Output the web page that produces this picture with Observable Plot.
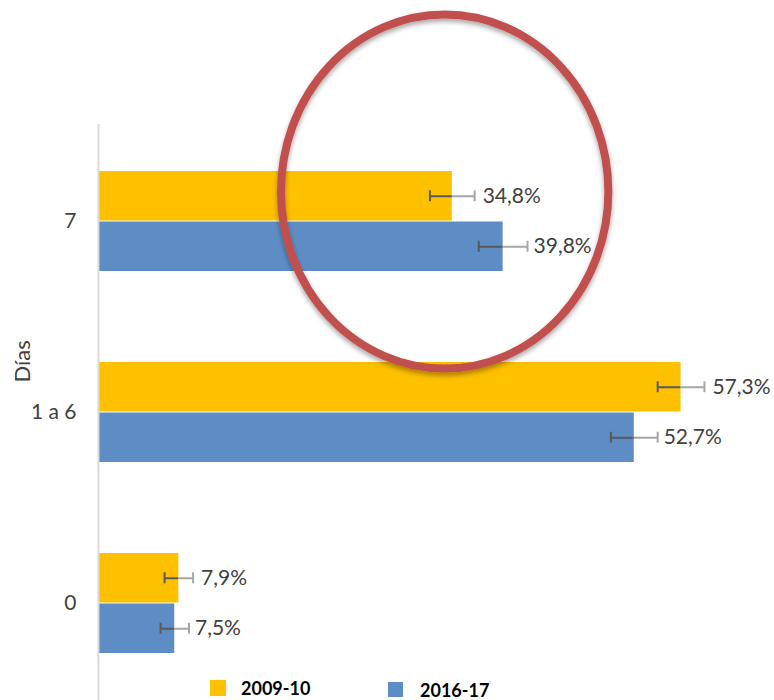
<!DOCTYPE html>
<html>
<head>
<meta charset="utf-8">
<script src="https://cdn.jsdelivr.net/npm/d3@7"></script>
<script src="https://cdn.jsdelivr.net/npm/@observablehq/plot@0.6"></script>
<style>
  html, body { margin: 0; padding: 0; background: #fff; }
  #wrap { position: relative; width: 774px; height: 700px; overflow: hidden; font-family: Lato, "Open Sans", sans-serif; }
  .leg { position: absolute; font-weight: bold; font-size: 18px; color: #000; line-height: 15px; }
  .sw { position: absolute; width: 16px; height: 16px; }
</style>
</head>
<body>
<div id="wrap"></div>
<script>
// ---- data ----
const categories = ["7", "1 a 6", "0"];
const seriesNames = ["2009-10", "2016-17"];
const values0910 = [34.8, 57.3, 7.9];
const values1617 = [39.8, 52.7, 7.5];
const err0910 = [2.2, 2.3, 1.4];
const err1617 = [2.4, 2.3, 1.4];
const axisLabel = "Días";
// annotation (ellipse around category "7"), in data units
const ellipseCenter = 34.1;   // % on x
const ellipseRadius = 16.1;   // % on x
const ellipseCategory = "7";

const colors = {"2009-10": "#FFC000", "2016-17": "#5E8DC6"};
const fmt = v => v.toFixed(1).replace(".", ",") + "%";

const rows = [];
categories.forEach((c, i) => {
  rows.push({cat: c, series: seriesNames[0], v: values0910[i], e: err0910[i]});
  rows.push({cat: c, series: seriesNames[1], v: values1617[i], e: err1617[i]});
});
const rowsA = rows.filter(d => d.series === seriesNames[0]);
const rowsB = rows.filter(d => d.series === seriesNames[1]);

const H = 700, BW = 101, half = BW / 2, off = BW / 4, cap = 12;

const chart = Plot.plot({
  width: 774,
  height: H,
  marginLeft: 98,
  marginRight: 5,
  marginTop: 124,
  marginBottom: 0,
  style: {fontFamily: "Lato, 'Open Sans', sans-serif", fontSize: "21px", color: "#404040", background: "transparent", overflow: "visible"},
  x: {domain: [0, 66], axis: null},
  y: {domain: categories, paddingInner: 91 / 192, paddingOuter: 0.237, label: null, tickSize: 0, tickPadding: 22},
  marks: [
    Plot.barX(rowsA, {y: "cat", x: "v", fill: colors[seriesNames[0]], insetBottom: half}),
    Plot.barX(rowsB, {y: "cat", x: "v", fill: colors[seriesNames[1]], insetTop: half}),
    Plot.ruleX([0], {stroke: "#d9d9d9", strokeWidth: 2}),
    // axis title
    Plot.text([axisLabel], {frameAnchor: "left", dx: -76, dy: -30, rotate: -90, fill: "#404040", fontSize: 22}),
    // error bars: inner (dark) and outer (light) halves
    Plot.ruleY(rowsA, {y: "cat", x1: d => d.v - d.e, x2: "v", dy: -off, stroke: "#595959", strokeWidth: 2}),
    Plot.ruleY(rowsA, {y: "cat", x1: "v", x2: d => d.v + d.e, dy: -off, stroke: "#a6a6a6", strokeWidth: 2}),
    Plot.ruleY(rowsB, {y: "cat", x1: d => d.v - d.e, x2: "v", dy: off, stroke: "#595959", strokeWidth: 2}),
    Plot.ruleY(rowsB, {y: "cat", x1: "v", x2: d => d.v + d.e, dy: off, stroke: "#a6a6a6", strokeWidth: 2}),
    Plot.tickX(rowsA, {y: "cat", x: d => d.v - d.e, stroke: "#595959", strokeWidth: 2, insetTop: off - cap / 2, insetBottom: BW - off - cap / 2}),
    Plot.tickX(rowsA, {y: "cat", x: d => d.v + d.e, stroke: "#a6a6a6", strokeWidth: 2, insetTop: off - cap / 2, insetBottom: BW - off - cap / 2}),
    Plot.tickX(rowsB, {y: "cat", x: d => d.v - d.e, stroke: "#595959", strokeWidth: 2, insetTop: BW - off - cap / 2, insetBottom: off - cap / 2}),
    Plot.tickX(rowsB, {y: "cat", x: d => d.v + d.e, stroke: "#a6a6a6", strokeWidth: 2, insetTop: BW - off - cap / 2, insetBottom: off - cap / 2}),
    // value labels
    Plot.text(rowsA, {y: "cat", x: d => d.v + d.e, dx: 8, dy: -off, text: d => fmt(d.v), textAnchor: "start", fill: "#404040", fontSize: 21}),
    Plot.text(rowsB, {y: "cat", x: d => d.v + d.e, dx: 6, dy: off, text: d => fmt(d.v), textAnchor: "start", fill: "#404040", fontSize: 21})
  ]
});

// annotation ellipse, positioned through the plot's scales
const xs = chart.scale("x"), ys = chart.scale("y");
const cx = xs.apply(ellipseCenter);
const rx = xs.apply(ellipseRadius) - xs.apply(0);
const cy = ys.apply(ellipseCategory) + ys.bandwidth / 2 - 29.5;
const ry = 177;
const ns = "http://www.w3.org/2000/svg";
const defs = document.createElementNS(ns, "defs");
defs.innerHTML = '<filter id="shd" x="-20%" y="-20%" width="140%" height="140%"><feDropShadow dx="0" dy="3" stdDeviation="2.5" flood-color="#000" flood-opacity="0.35"/></filter>';
chart.appendChild(defs);
const el = document.createElementNS(ns, "ellipse");
el.setAttribute("cx", cx); el.setAttribute("cy", cy);
el.setAttribute("rx", rx); el.setAttribute("ry", ry);
el.setAttribute("fill", "none"); el.setAttribute("stroke", "#C0504D");
el.setAttribute("stroke-width", 8); el.setAttribute("filter", "url(#shd)");
chart.appendChild(el);

const wrap = document.getElementById("wrap");
wrap.appendChild(chart);

// legend (HTML, over the bottom of the SVG)
const legPos = [{sw: 210, tx: 241, t: 680}, {sw: 388, tx: 420, t: 682}];
seriesNames.forEach((s, i) => {
  const sq = document.createElement("div");
  sq.className = "sw";
  sq.style.left = legPos[i].sw + "px"; sq.style.top = legPos[i].t + "px";
  sq.style.background = colors[s];
  if (i === 1) { sq.style.width = "15px"; sq.style.height = "15px"; }
  wrap.appendChild(sq);
  const tx = document.createElement("div");
  tx.className = "leg";
  tx.style.left = legPos[i].tx + "px"; tx.style.top = (legPos[i].t + 1) + "px";
  tx.textContent = s;
  wrap.appendChild(tx);
});
</script>
</body>
</html>
